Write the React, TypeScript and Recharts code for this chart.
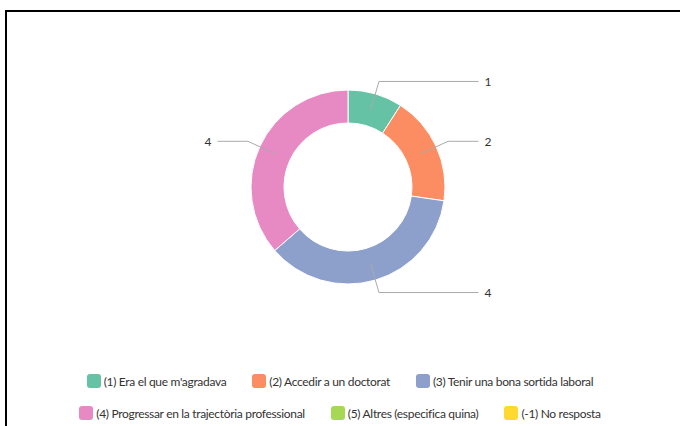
import { PieChart, Pie, Cell, Legend } from "recharts";

const categories = [
  "(1) Era el que m'agradava",
  "(2) Accedir a un doctorat",
  "(3) Tenir una bona sortida laboral",
  "(4) Progressar en la trajectòria professional",
  "(5) Altres (especifica quina)",
  "(-1) No resposta",
];
const counts = [1, 2, 4, 4, 0, 0];
const colors = ["#66c2a5", "#fc8d62", "#8da0cb", "#e78ac3", "#a6d854", "#ffd92f"];

const data = categories.map((name, i) => ({ name, value: counts[i] }));

const FONT = "Lato, Roboto, sans-serif";
const RADIAN = Math.PI / 180;

function renderLabel(props: any) {
  const { cx, cy, midAngle, value, innerRadius, outerRadius } = props;
  if (!value) return null;
  const cos = Math.cos(-midAngle * RADIAN);
  const sin = Math.sin(-midAngle * RADIAN);
  const r1 = (innerRadius + outerRadius) / 2;
  const r2 = outerRadius + 13;
  const side = cos >= 0 ? 1 : -1;
  const x1 = cx + r1 * cos;
  const y1 = cy + r1 * sin;
  const x2 = cx + r2 * cos;
  const y2 = cy + r2 * sin;
  const x3 = cx + side * 130.5;
  return (
    <g>
      <polyline points={`${x1},${y1} ${x2},${y2} ${x3},${y2}`} fill="none" stroke="#aaa" strokeWidth={1} />
      <text
        x={x3 + side * 6}
        y={y2}
        textAnchor={side > 0 ? "start" : "end"}
        dominantBaseline="central"
        fill="#333"
        fontSize={12}
        fontFamily={FONT}
      >
        {value}
      </text>
    </g>
  );
}

function LegendRows() {
  const rows = [data.slice(0, 3), data.slice(3, 6)];
  let k = 0;
  return (
    <div style={{ fontFamily: FONT, fontSize: 12, letterSpacing: -0.32, color: "#333" }}>
      {rows.map((row, ri) => (
        <div
          key={ri}
          style={{ display: "flex", justifyContent: "center", gap: 26, height: 16, marginBottom: 16, alignItems: "center" }}
        >
          {row.map((d) => {
            const idx = k++;
            return (
              <div key={d.name} style={{ display: "flex", alignItems: "center", whiteSpace: "nowrap" }}>
                <span
                  style={{
                    display: "inline-block",
                    width: 14,
                    height: 14,
                    borderRadius: 3,
                    background: colors[idx],
                    marginRight: 3,
                  }}
                />
                <span>{d.name}</span>
              </div>
            );
          })}
        </div>
      ))}
    </div>
  );
}

export default function App() {
  return (
    <div
      style={{
        position: "fixed",
        left: 5,
        top: 10,
        width: 720,
        height: 440,
        border: "2px solid #000",
        boxSizing: "border-box",
        background: "#fff",
      }}
    >
      <PieChart width={680} height={420} margin={{ top: 0, right: 0, bottom: 0, left: 0 }}>
        <Pie
          data={data}
          dataKey="value"
          nameKey="name"
          cx={341}
          cy={175}
          innerRadius={64}
          outerRadius={97}
          startAngle={90}
          endAngle={-270}
          stroke="#fff"
          strokeWidth={1}
          label={renderLabel}
          labelLine={false}
          isAnimationActive={false}
        >
          {data.map((d, i) => (
            <Cell key={d.name} fill={colors[i]} />
          ))}
        </Pie>
        <Legend content={<LegendRows />} wrapperStyle={{ left: 0, top: 361, width: 666 }} />
      </PieChart>
    </div>
  );
}
